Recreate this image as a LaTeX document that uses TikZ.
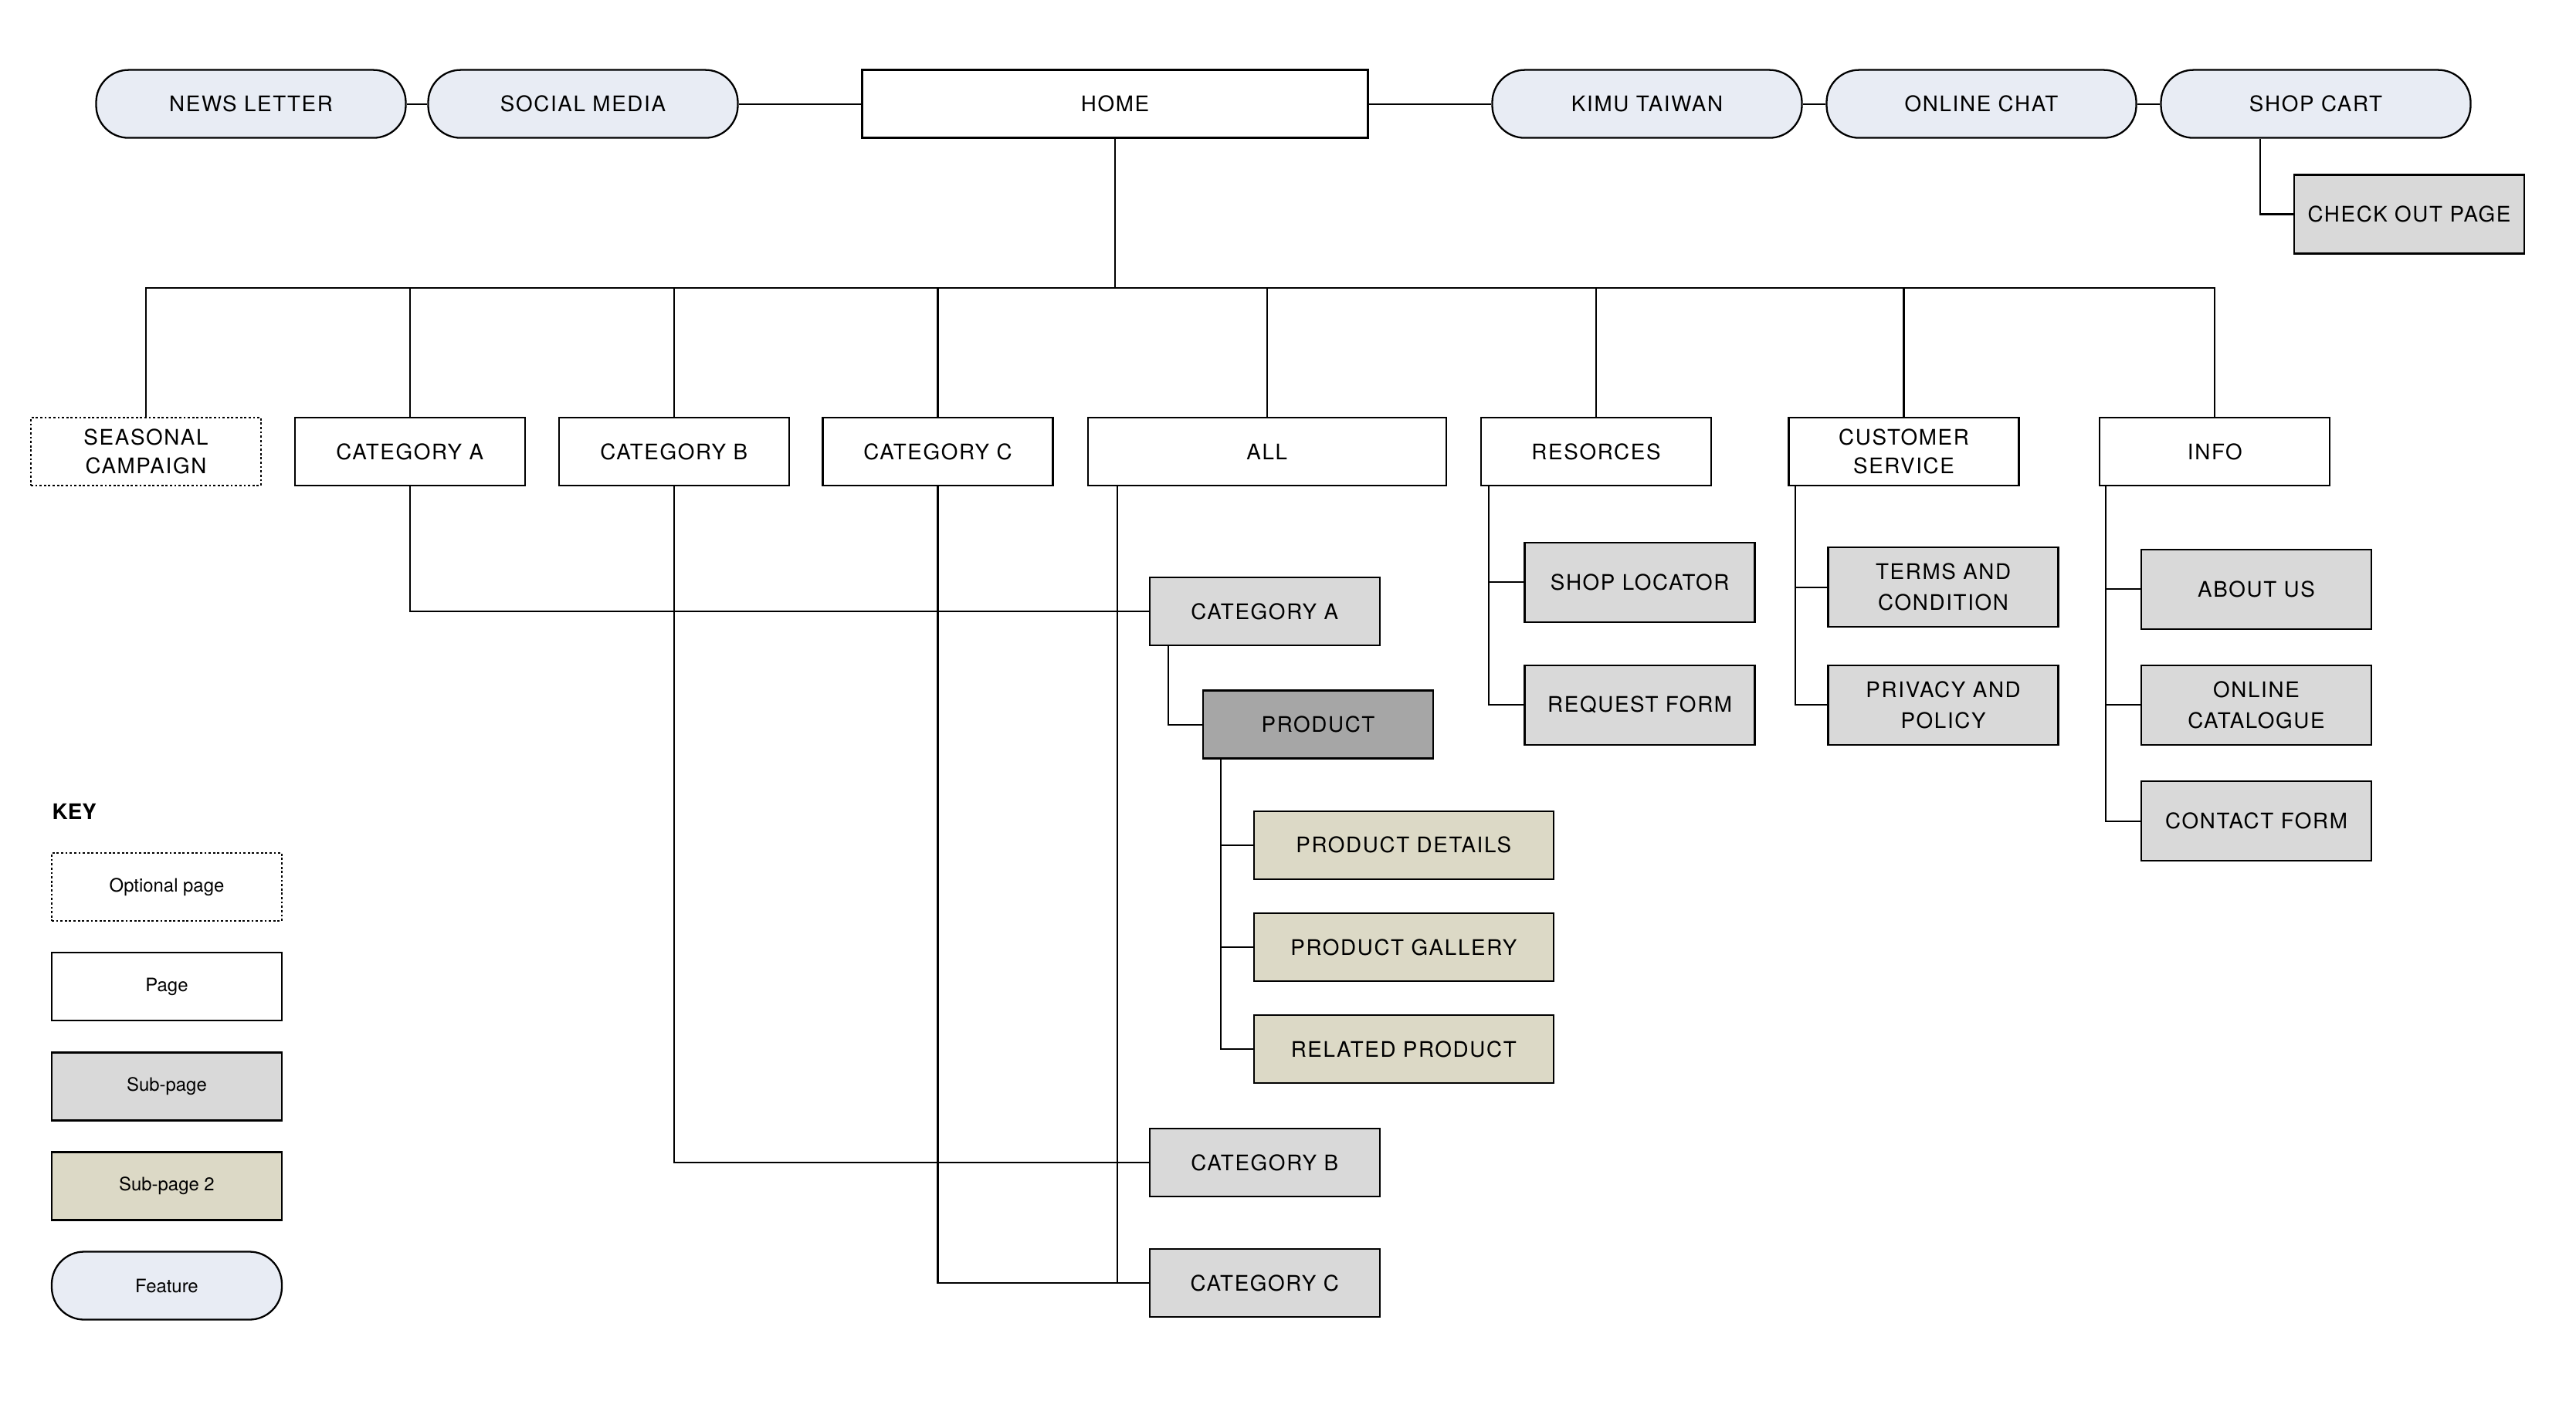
\documentclass[tikz,border=0pt]{standalone}
\usepackage{fontspec}
\setmainfont{TeX Gyre Heros}
\newfontfamily\labelfont[LetterSpace=6]{TeX Gyre Heros}
\usetikzlibrary{calc}
\definecolor{featurefill}{HTML}{E8ECF4}
\definecolor{subfill}{HTML}{D9D9D9}
\definecolor{subtwofill}{HTML}{DCD9C6}
\definecolor{productfill}{HTML}{A6A6A6}

\begin{document}
\begin{tikzpicture}[x=1cm, y=-1cm,
	page/.style={draw, line width=0.65pt, fill=white, minimum width=2.98cm, minimum height=0.88cm, inner sep=0pt, align=center, font=\labelfont\fontsize{7.9}{10.4}\selectfont},
	optional/.style={page, line width=0.75pt, dash pattern=on 0.8pt off 0.8pt},
	subpage/.style={page, fill=subfill, font=\labelfont\fontsize{7.9}{11.4}\selectfont},
	subtwo/.style={page, fill=subtwofill, minimum width=3.88cm},
	product/.style={page, fill=productfill},
	feature/.style={page, fill=featurefill, rounded corners=0.42cm, minimum width=4.01cm},
	keytext/.style={font=\fontsize{6.8}{8}\selectfont},
	link/.style={line width=0.6pt}]
		%%%%% START %%%%%
		\useasboundingbox (0,0) rectangle (33.36,18.24);
		
		% top row
		\node[feature] (news) at (3.25, 1.346) {NEWS LETTER};
		\node[feature] (social) at (7.55, 1.346) {SOCIAL MEDIA};
		\node[page, minimum width=6.55cm] (home) at (14.44, 1.346) {HOME};
		\node[feature] (kimu) at (21.33, 1.346) {KIMU TAIWAN};
		\node[feature] (chat) at (25.66, 1.346) {ONLINE CHAT};
		\node[feature] (cart) at (29.99, 1.346) {SHOP CART};
		\node[subpage, minimum height=1.02cm] (checkout) at (31.20, 2.775) {CHECK OUT PAGE};
		
		\draw[link] (news) -- (social);
		\draw[link] (social) -- (home);
		\draw[link] (home) -- (kimu);
		\draw[link] (kimu) -- (chat);
		\draw[link] (chat) -- (cart);
		\draw[link] ($(cart.south)+(-0.72,0)$) |- (checkout.west);
		
		% main pages
		\node[optional] (seasonal) at (1.89, 5.85) {SEASONAL\\CAMPAIGN};
		\node[page] (cata) at (5.307, 5.85) {CATEGORY A};
		\node[page] (catb) at (8.727, 5.85) {CATEGORY B};
		\node[page] (catc) at (12.145, 5.85) {CATEGORY C};
		\node[page, minimum width=4.64cm] (all) at (16.407, 5.85) {ALL};
		\node[page] (res) at (20.67, 5.85) {RESORCES};
		\node[page] (cust) at (24.655, 5.85) {CUSTOMER\\SERVICE};
		\node[page] (info) at (28.683, 5.85) {INFO};
		
		\coordinate (bus) at (14.44, 3.73);
		\draw[link] (home) -- (home |- bus);
		\draw[link] (seasonal.north) |- (info.north |- bus) -- (info.north);
		\foreach \n in {cata,catb,catc,all,res,cust}
			\draw[link] (\n.north) -- (\n.north |- bus);
		
		% under ALL
		\node[subpage] (subcata) at (16.378, 7.92) {CATEGORY A};
		\node[product] (product) at (17.07, 9.386) {PRODUCT};
		\node[subtwo] (details) at (18.178, 10.948) {PRODUCT DETAILS};
		\node[subtwo] (gallery) at (18.178, 12.27) {PRODUCT GALLERY};
		\node[subtwo] (related) at (18.178, 13.592) {RELATED PRODUCT};
		\node[subpage] (subcatb) at (16.378, 15.059) {CATEGORY B};
		\node[subpage] (subcatc) at (16.378, 16.62) {CATEGORY C};
		
		\coordinate (allfoot) at ($(all.south west)+(0.39,0)$);
		\coordinate (subafoot) at ($(subcata.south west)+(0.25,0)$);
		\coordinate (prodfoot) at ($(product.south west)+(0.24,0)$);
		\draw[link] (allfoot) |- (subcatc.west);
		\draw[link] (cata.south) |- (subcata.west);
		\draw[link] (catb.south) |- (subcatb.west);
		\draw[link] (catc.south) |- (subcatc.west);
		\draw[link] (subafoot) |- (product.west);
		\draw[link] (prodfoot) |- (related.west);
		\draw[link] (details.west) -- (details.west -| prodfoot);
		\draw[link] (gallery.west) -- (gallery.west -| prodfoot);
		
		% resources, customer service, info
		\node[subpage, minimum height=1.03cm] (locator) at (21.236, 7.543) {SHOP LOCATOR};
		\node[subpage, minimum height=1.03cm] (request) at (21.236, 9.133) {REQUEST FORM};
		\node[subpage, minimum height=1.03cm] (terms) at (25.166, 7.607) {TERMS AND\\CONDITION};
		\node[subpage, minimum height=1.03cm] (privacy) at (25.166, 9.133) {PRIVACY AND\\POLICY};
		\node[subpage, minimum height=1.03cm] (about) at (29.22, 7.633) {ABOUT US};
		\node[subpage, minimum height=1.03cm] (catalogue) at (29.22, 9.133) {ONLINE\\CATALOGUE};
		\node[subpage, minimum height=1.03cm] (contact) at (29.22, 10.637) {CONTACT FORM};
		
		\coordinate (resfoot) at ($(res.south west)+(0.11,0)$);
		\coordinate (custfoot) at ($(cust.south west)+(0.10,0)$);
		\coordinate (infofoot) at ($(info.south west)+(0.09,0)$);
		\draw[link] (resfoot) |- (request.west);
		\draw[link] (locator.west) -- (locator.west -| resfoot);
		\draw[link] (custfoot) |- (privacy.west);
		\draw[link] (terms.west) -- (terms.west -| custfoot);
		\draw[link] (infofoot) |- (contact.west);
		\draw[link] (about.west) -- (about.west -| infofoot);
		\draw[link] (catalogue.west) -- (catalogue.west -| infofoot);
		
		% key
		\node[anchor=base west, inner sep=0pt, font=\bfseries\fontsize{7.9}{9}\selectfont] (keytitle) at (0.67, 10.617) {KEY};
		\node[optional, keytext] (keyopt) at (2.16, 11.49) {Optional page};
		\node[page, keytext] (keypage) at (2.16, 12.78) {Page};
		\node[subpage, keytext] (keysub) at (2.16, 14.075) {Sub-page};
		\node[page, fill=subtwofill, keytext] (keysubtwo) at (2.16, 15.365) {Sub-page 2};
		\node[feature, minimum width=2.98cm, keytext] (keyfeature) at (2.16, 16.655) {Feature};
		%%%%% END %%%%%
\end{tikzpicture}
\end{document}
